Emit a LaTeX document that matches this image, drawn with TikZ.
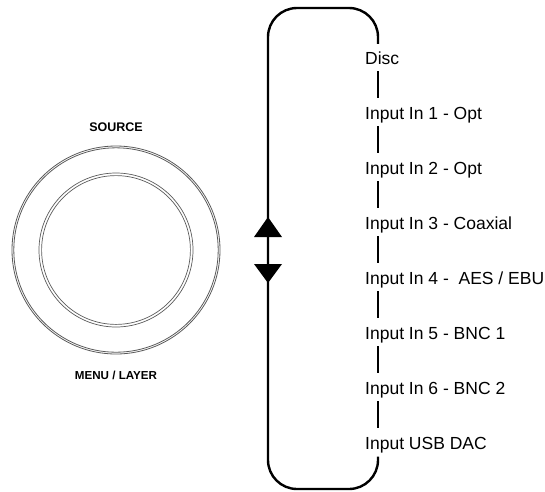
\documentclass[tikz,border=0pt]{standalone}
\usepackage{fontspec}
\setmainfont{Liberation Sans}
\usetikzlibrary{positioning,calc}
\definecolor{ringgray}{RGB}{90,90,90}
\tikzset{
  inlabel/.style={anchor=base west, inner xsep=0pt, inner ysep=3pt,
                  text height=12pt, text depth=3.5pt, font=\fontsize{17.5}{20}\selectfont},
  knoblabel/.style={font=\bfseries\fontsize{12.5}{14}\selectfont},
  loopline/.style={line width=2.4pt, rounded corners=29pt},
  segline/.style={line width=2.6pt, shorten <=0.5pt, shorten >=6pt},
  ring/.style={draw=ringgray, line width=0.8pt}
}

\begin{document}
\begin{tikzpicture}[x=1pt, y=-1pt]
    \useasboundingbox (0,0) rectangle (545,491);

    % the knob
    \node[knoblabel] (src) at (116,127) {SOURCE};
    \node[knoblabel, font=\bfseries\fontsize{11.6}{14}\selectfont] (menu) at (116,375) {MENU / LAYER};
    \coordinate (knob) at (116,250);
    \draw[ring] (knob) circle[radius=104];
    \draw[ring] (knob) circle[radius=102.2];
    \draw[ring, line width=0.7pt] (knob) circle[radius=77];
    \draw[ring, line width=0.7pt] (knob) circle[radius=74.4];

    % input list
    \coordinate (spine) at (378,0);
    \foreach \txt [count=\i from 0] in {Disc, Input In 1 - Opt, Input In 2 - Opt,
        Input In 3 - Coaxial, Input In 4 -\ \ AES / EBU, Input In 5 - BNC 1,
        Input In 6 - BNC 2, Input USB DAC}
      \node[inlabel] (in\i) at (365,64+55*\i) {\txt};
    \foreach \i [evaluate=\i as \j using int(\i+1)] in {0,...,6}
      \draw[segline] (in\i.south -| spine) -- (in\j.north -| spine);

    % loop round the list
    \coordinate (ltop) at (268,8);
    \coordinate (lbot) at (268,489);
    \draw[loopline] ([yshift=5pt]in0.north -| spine) -- (ltop -| spine) -- (ltop)
        -- (lbot) -- (lbot -| spine) -- ([yshift=-1pt]in7.south -| spine);
    \fill (254,237) -- (268,217) -- (282,237) -- cycle;
    \fill (254,264) -- (268,283) -- (282,264) -- cycle;
  \end{tikzpicture}
\end{document}
